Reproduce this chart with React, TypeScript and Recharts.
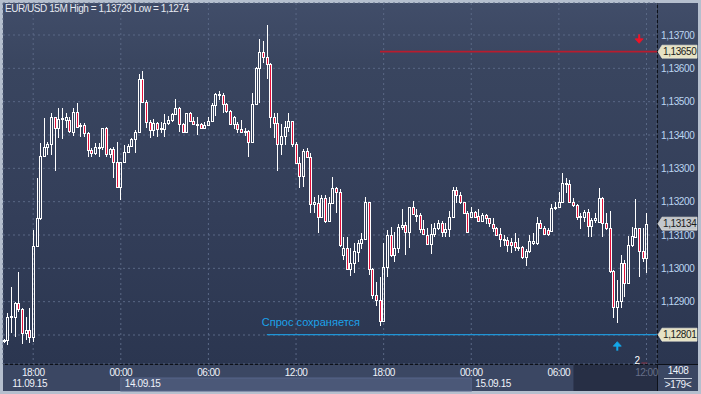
import React from 'react'
import {
  ComposedChart, Bar, XAxis, YAxis, CartesianGrid, ReferenceLine, ReferenceDot,
} from 'recharts'

// EUR/USD 15M candles, 11.09.15 16:00 -> 15.09.15 12:00
const OPEN = [
  1.12784, 1.12785, 1.12855, 1.12855, 1.12897, 1.12877, 1.12805, 1.12815, 1.12793, 1.13068,
  1.13150, 1.13337, 1.13363, 1.13373, 1.13453, 1.13420, 1.13448, 1.13445, 1.13445, 1.13410,
  1.13468, 1.13427, 1.13429, 1.13405, 1.13355, 1.13345, 1.13364, 1.13365, 1.13420, 1.13342,
  1.13357, 1.13320, 1.13243, 1.13318, 1.13348, 1.13368, 1.13387, 1.13410, 1.13568, 1.13498,
  1.13438, 1.13415, 1.13435, 1.13419, 1.13418, 1.13435, 1.13445, 1.13463, 1.13480, 1.13432,
  1.13410, 1.13465, 1.13443, 1.13433, 1.13432, 1.13420, 1.13430, 1.13443, 1.13490, 1.13522,
  1.13520, 1.13492, 1.13472, 1.13433, 1.13432, 1.13418, 1.13410, 1.13412, 1.13380, 1.13492,
  1.13600, 1.13650, 1.13633, 1.13613, 1.13453, 1.13435, 1.13372, 1.13397, 1.13423, 1.13442,
  1.13372, 1.13315, 1.13277, 1.13352, 1.13335, 1.13193, 1.13197, 1.13153, 1.13212, 1.13142,
  1.13197, 1.13240, 1.13230, 1.13040, 1.13060, 1.12997, 1.13015, 1.13050, 1.13075, 1.13087,
  1.13198, 1.12997, 1.12920, 1.12905, 1.12843, 1.13005, 1.13100, 1.13040, 1.13060, 1.13123,
  1.13130, 1.13108, 1.13183, 1.13161, 1.13160, 1.13117, 1.13100, 1.13072, 1.13102, 1.13120,
  1.13137, 1.13110, 1.13117, 1.13155, 1.13235, 1.13220, 1.13198, 1.13165, 1.13155, 1.13168,
  1.13157, 1.13143, 1.13160, 1.13150, 1.13133, 1.13122, 1.13102, 1.13088, 1.13085, 1.13078,
  1.13078, 1.13065, 1.13065, 1.13035, 1.13053, 1.13077, 1.13077, 1.13135, 1.13120, 1.13115,
  1.13113, 1.13180, 1.13185, 1.13200, 1.13257, 1.13252, 1.13200, 1.13190, 1.13156, 1.13155,
  1.13170, 1.13127, 1.13145, 1.13140, 1.13210, 1.13137, 1.13120, 1.12993, 1.12883, 1.12903,
  1.13017, 1.12957, 1.13070, 1.13095, 1.13120, 1.13053, 1.13030,
]
const HIGH = [
  1.12787, 1.12865, 1.12945, 1.12900, 1.12990, 1.12880, 1.12855, 1.12880, 1.13115, 1.13270,
  1.13375, 1.13450, 1.13380, 1.13465, 1.13455, 1.13480, 1.13480, 1.13465, 1.13455, 1.13480,
  1.13495, 1.13435, 1.13435, 1.13410, 1.13360, 1.13375, 1.13375, 1.13422, 1.13425, 1.13360,
  1.13365, 1.13380, 1.13318, 1.13370, 1.13372, 1.13390, 1.13415, 1.13583, 1.13593, 1.13505,
  1.13445, 1.13448, 1.13440, 1.13440, 1.13462, 1.13457, 1.13467, 1.13507, 1.13485, 1.13435,
  1.13465, 1.13470, 1.13453, 1.13453, 1.13437, 1.13440, 1.13453, 1.13495, 1.13527, 1.13533,
  1.13525, 1.13495, 1.13475, 1.13457, 1.13440, 1.13445, 1.13420, 1.13415, 1.13525, 1.13605,
  1.13687, 1.13683, 1.13730, 1.13615, 1.13465, 1.13465, 1.13433, 1.13443, 1.13465, 1.13443,
  1.13380, 1.13335, 1.13357, 1.13360, 1.13347, 1.13215, 1.13220, 1.13220, 1.13220, 1.13213,
  1.13275, 1.13245, 1.13237, 1.13093, 1.13093, 1.13060, 1.13077, 1.13085, 1.13105, 1.13213,
  1.13200, 1.13000, 1.12960, 1.12975, 1.13075, 1.13115, 1.13125, 1.13110, 1.13133, 1.13177,
  1.13140, 1.13185, 1.13203, 1.13177, 1.13165, 1.13145, 1.13120, 1.13133, 1.13137, 1.13145,
  1.13143, 1.13137, 1.13172, 1.13245, 1.13243, 1.13230, 1.13200, 1.13172, 1.13185, 1.13172,
  1.13177, 1.13165, 1.13163, 1.13152, 1.13150, 1.13125, 1.13122, 1.13100, 1.13093, 1.13092,
  1.13105, 1.13090, 1.13067, 1.13057, 1.13100, 1.13105, 1.13153, 1.13145, 1.13127, 1.13122,
  1.13193, 1.13200, 1.13230, 1.13287, 1.13270, 1.13265, 1.13210, 1.13193, 1.13167, 1.13175,
  1.13177, 1.13150, 1.13167, 1.13240, 1.13215, 1.13167, 1.13173, 1.12995, 1.12965, 1.13040,
  1.13025, 1.13097, 1.13125, 1.13207, 1.13120, 1.13120, 1.13165,
]
const LOW = [
  1.12777, 1.12770, 1.12805, 1.12795, 1.12870, 1.12773, 1.12785, 1.12775, 1.12780, 1.13065,
  1.13145, 1.13335, 1.13340, 1.13340, 1.13293, 1.13390, 1.13387, 1.13420, 1.13405, 1.13397,
  1.13420, 1.13395, 1.13393, 1.13335, 1.13335, 1.13340, 1.13335, 1.13355, 1.13335, 1.13330,
  1.13270, 1.13240, 1.13205, 1.13315, 1.13345, 1.13365, 1.13347, 1.13408, 1.13495, 1.13420,
  1.13390, 1.13398, 1.13393, 1.13405, 1.13395, 1.13430, 1.13440, 1.13460, 1.13409, 1.13407,
  1.13405, 1.13440, 1.13430, 1.13400, 1.13417, 1.13417, 1.13427, 1.13440, 1.13457, 1.13505,
  1.13467, 1.13467, 1.13430, 1.13417, 1.13405, 1.13405, 1.13397, 1.13335, 1.13380, 1.13490,
  1.13497, 1.13615, 1.13568, 1.13420, 1.13390, 1.13293, 1.13340, 1.13370, 1.13410, 1.13365,
  1.13313, 1.13240, 1.13245, 1.13333, 1.13165, 1.13165, 1.13107, 1.13150, 1.13135, 1.13140,
  1.13193, 1.13165, 1.13065, 1.13025, 1.12995, 1.12977, 1.12985, 1.13020, 1.13057, 1.13085,
  1.12980, 1.12907, 1.12887, 1.12827, 1.12840, 1.12973, 1.13035, 1.13020, 1.13045, 1.13115,
  1.13040, 1.13060, 1.13160, 1.13140, 1.13105, 1.13100, 1.13070, 1.13043, 1.13093, 1.13115,
  1.13093, 1.13095, 1.13093, 1.13150, 1.13197, 1.13193, 1.13163, 1.13110, 1.13153, 1.13150,
  1.13140, 1.13140, 1.13133, 1.13125, 1.13110, 1.13097, 1.13065, 1.13068, 1.13050, 1.13047,
  1.13053, 1.13053, 1.13027, 1.13008, 1.13047, 1.13070, 1.13070, 1.13117, 1.13100, 1.13097,
  1.13110, 1.13175, 1.13180, 1.13197, 1.13225, 1.13195, 1.13185, 1.13145, 1.13117, 1.13140,
  1.13095, 1.13093, 1.13135, 1.13137, 1.13093, 1.13115, 1.12985, 1.12850, 1.12837, 1.12880,
  1.12915, 1.12955, 1.13063, 1.13090, 1.12975, 1.13020, 1.12987,
]
const CLOSE = [
  1.12782, 1.12855, 1.12857, 1.12897, 1.12877, 1.12805, 1.12815, 1.12795, 1.13068, 1.13150,
  1.13337, 1.13365, 1.13373, 1.13453, 1.13420, 1.13447, 1.13450, 1.13453, 1.13412, 1.13468,
  1.13425, 1.13429, 1.13405, 1.13355, 1.13345, 1.13365, 1.13365, 1.13420, 1.13342, 1.13357,
  1.13320, 1.13243, 1.13318, 1.13348, 1.13368, 1.13387, 1.13410, 1.13568, 1.13498, 1.13438,
  1.13415, 1.13435, 1.13418, 1.13420, 1.13435, 1.13445, 1.13463, 1.13480, 1.13432, 1.13410,
  1.13465, 1.13443, 1.13432, 1.13432, 1.13420, 1.13430, 1.13443, 1.13490, 1.13522, 1.13520,
  1.13493, 1.13472, 1.13433, 1.13453, 1.13418, 1.13408, 1.13411, 1.13380, 1.13492, 1.13600,
  1.13650, 1.13633, 1.13613, 1.13453, 1.13435, 1.13372, 1.13397, 1.13423, 1.13442, 1.13372,
  1.13315, 1.13277, 1.13352, 1.13335, 1.13193, 1.13200, 1.13153, 1.13210, 1.13143, 1.13197,
  1.13240, 1.13230, 1.13070, 1.13060, 1.12997, 1.13015, 1.13052, 1.13075, 1.13087, 1.13198,
  1.12997, 1.12920, 1.12905, 1.12843, 1.13005, 1.13100, 1.13040, 1.13060, 1.13123, 1.13130,
  1.13108, 1.13183, 1.13163, 1.13160, 1.13117, 1.13102, 1.13072, 1.13102, 1.13120, 1.13137,
  1.13110, 1.13117, 1.13155, 1.13235, 1.13220, 1.13198, 1.13165, 1.13110, 1.13168, 1.13155,
  1.13143, 1.13160, 1.13150, 1.13135, 1.13122, 1.13100, 1.13088, 1.13087, 1.13070, 1.13070,
  1.13063, 1.13064, 1.13035, 1.13053, 1.13083, 1.13083, 1.13135, 1.13122, 1.13102, 1.13102,
  1.13180, 1.13185, 1.13200, 1.13255, 1.13253, 1.13200, 1.13190, 1.13155, 1.13155, 1.13170,
  1.13127, 1.13145, 1.13150, 1.13210, 1.13137, 1.13120, 1.12993, 1.12883, 1.12903, 1.13017,
  1.12957, 1.13070, 1.13097, 1.13120, 1.13053, 1.13030, 1.13134,
]

const TICK_IDX = [8, 32, 56, 80, 104, 128, 152, 176]
const TICK_TIMES = ['18:00', '00:00', '06:00', '12:00', '18:00', '00:00', '06:00', '12:00']
const DATE_IDX = [8, 32, 128]
const DATE_LABELS = ['11.09.15', '14.09.15', '15.09.15']
const PRICE_TICKS = [1.128, 1.129, 1.13, 1.131, 1.132, 1.133, 1.134, 1.135, 1.136, 1.137]

const RESIST = 1.1365
const SUPPORT = 1.12801
const LAST = 1.13134

const X_MIN = -0.27
const X_MAX = 178.88
const PLOT_W = 654
const PX = PLOT_W / (X_MAX - X_MIN)
const FONT = '"Liberation Sans", Arial, sans-serif'

const data = OPEN.map((o, i) => ({
  i, o, h: HIGH[i], l: LOW[i], c: CLOSE[i], range: [LOW[i], HIGH[i]],
}))

const fmt = (v: number) => v.toFixed(5).replace('.', ',')

function Candle(props: any) {
  const { x, y, width, height, payload } = props
  if (x == null || !payload) return null
  const top = Math.min(y, y + height)
  const h = Math.abs(height)
  const k = h / (payload.h - payload.l || 1)
  const py = (v: number) => top + (payload.h - v) * k
  const cx = Math.round(x + width / 2) + 0.5
  const bull = payload.c >= payload.o
  const bTop = Math.round(py(Math.max(payload.o, payload.c))) + 0.5
  let bBot = Math.round(py(Math.min(payload.o, payload.c))) + 0.5
  if (bBot - bTop < 1) bBot = bTop + 1
  const yH = py(payload.h)
  const yL = py(payload.l)
  return (
    <g shapeRendering="crispEdges">
      <line x1={cx} x2={cx} y1={yH} y2={bTop} stroke="#fff" />
      <line x1={cx} x2={cx} y1={bBot} y2={yL} stroke="#fff" />
      <rect x={cx - 1} y={bTop} width={2} height={bBot - bTop}
        fill={bull ? 'none' : '#e3103a'} stroke="#fff" />
    </g>
  )
}

function XTick(props: any) {
  const { x, y, payload } = props
  const idx = payload.value
  const n = TICK_IDX.indexOf(idx)
  const d = DATE_IDX.indexOf(idx)
  const last = n === TICK_IDX.length - 1
  return (
    <g fontFamily={FONT} fontSize={10} letterSpacing={-0.5}>
      {last && (
        <rect x={x - 20 * PX} y={y + 1} width={20 * PX + (X_MAX - idx) * PX} height={26} fill="#272f45" />
      )}
      {idx === 32 && (
        <rect x={x} y={y + 14} width={96 * PX} height={13} fill="#4b5878" stroke="#56648a" />
      )}
      <text x={x} y={y + 12} textAnchor="middle" fill={last ? '#667089' : '#eef2fa'}>
        {TICK_TIMES[n]}
      </text>
      {d >= 0 && (
        <text x={d === 0 ? x - 21 : x + 4} y={y + 23} fill="#eef2fa" letterSpacing={-0.4}>
          {DATE_LABELS[d]}
        </text>
      )}
    </g>
  )
}

function YTick(props: any) {
  const { x, y, payload } = props
  if (payload.value === 1.128) return null
  return (
    <text x={x} y={y + 3.6} fill="#bcd6f2" fontFamily={FONT} fontSize={10} letterSpacing={-0.4}>
      {fmt(payload.value)}
    </text>
  )
}

function Tag({ viewBox, value, fill }: any) {
  if (!viewBox) return null
  const xr = viewBox.x + viewBox.width
  const yc = viewBox.y
  const pts = `${xr + 1},${yc} ${xr + 5},${yc - 6.5} ${xr + 40},${yc - 6.5} ${xr + 40},${yc + 6.5} ${xr + 5},${yc + 6.5}`
  return (
    <g>
      <polygon points={pts} fill={fill} stroke="#f2f0e4" strokeWidth={0.6} />
      <text x={xr + 6} y={yc + 3.6} fill="#1b1b1b" fontFamily={FONT} fontSize={10} letterSpacing={-0.4}>
        {fmt(value)}
      </text>
    </g>
  )
}

function SupportLabel({ viewBox }: any) {
  if (!viewBox) return null
  return (
    <g>
      <text x={viewBox.x - 5} y={viewBox.y - 9} fill="#1ca2ea" fontFamily={FONT} fontSize={11}>
        Спрос сохраняется
      </text>
      <Tag viewBox={viewBox} value={SUPPORT} fill="#e6e2c4" />
    </g>
  )
}

function Arrow({ cx, cy, color, up }: any) {
  const s = up ? -1 : 1
  return (
    <g fill={color} stroke={color}>
      <line x1={cx} x2={cx} y1={cy - 5 * s} y2={cy + 1 * s} strokeWidth={2} />
      <polygon points={`${cx - 4},${cy - 0.5 * s} ${cx + 4},${cy - 0.5 * s} ${cx},${cy + 4 * s}`} strokeWidth={0.8} strokeLinejoin="round" />
    </g>
  )
}

export default function App() {
  return (
    <div style={{ position: 'absolute', left: 0, top: 0, width: 701, height: 394, background: '#b5bfce' }}>
      <div style={{
        position: 'absolute', left: 3, top: 3, width: 695, height: 361,
        background: 'linear-gradient(to bottom, #414d69 0%, #39455f 18%, #343f5a 55%, #2b3650 100%)',
      }} />
      <div style={{ position: 'absolute', left: 3, top: 364, width: 695, height: 27, background: '#3b4763' }} />
      <div style={{ position: 'absolute', left: 3, top: 364, width: 695, height: 1, background: '#0d1119' }} />
      <div style={{ position: 'absolute', left: 657, top: 3, width: 1, height: 388, background: '#0d1119' }} />
      <div style={{ position: 'absolute', left: 0, top: 0 }}>
        <ComposedChart width={701} height={394} data={data} margin={{ top: 3, right: 3, bottom: 3, left: 3 }}>
          <CartesianGrid stroke="#5a6885" strokeDasharray="2 3" />
          <XAxis dataKey="i" type="number" domain={[X_MIN, X_MAX]} allowDataOverflow
            ticks={TICK_IDX} interval={0} height={27} tickSize={0} tickMargin={0}
            axisLine={false} tickLine={false} tick={<XTick />} />
          <YAxis orientation="right" domain={[1.12713, 1.13796]} allowDataOverflow
            ticks={PRICE_TICKS} interval={0} width={41} tickSize={0} tickMargin={4}
            axisLine={false} tickLine={false} tick={<YTick />} />
          <Bar dataKey="range" barSize={3} isAnimationActive={false} shape={(p: any) => <Candle {...p} />} />
          <ReferenceLine segment={[{ x: 103, y: RESIST }, { x: X_MAX, y: RESIST }]}
            stroke="#b81c2e" strokeWidth={1.6}
            label={<Tag value={RESIST} fill="#e6e2c4" />} />
          <ReferenceLine segment={[{ x: 72, y: SUPPORT }, { x: X_MAX, y: SUPPORT }]}
            stroke="#1f95d6" strokeWidth={1.2}
            label={<SupportLabel />} />
          <ReferenceLine y={LAST} stroke="none" label={<Tag value={LAST} fill="#c3c7cc" />} />
          <ReferenceDot x={174} y={1.13687} r={0}
            shape={(p: any) => <Arrow cx={p.cx} cy={p.cy} color="#ee1428" />} />
          <ReferenceDot x={168} y={1.12768} r={0}
            shape={(p: any) => <Arrow cx={p.cx} cy={p.cy} color="#14a8ea" up />} />
          <ReferenceDot x={173.5} y={1.12725} r={0}
            shape={(p: any) => (
              <g>
                <text x={p.cx} y={p.cy + 3.5} textAnchor="middle" fill="#ffffff" fontFamily={FONT} fontSize={10}>2</text>
                <line x1={p.cx + 4} x2={p.cx + 10} y1={p.cy + 3} y2={p.cy + 3} stroke="#8a3040" />
              </g>
            )} />
        </ComposedChart>
      </div>
      <div style={{
        position: 'absolute', left: 5, top: 2, color: '#e6eaf2', fontFamily: FONT,
        fontSize: 10, letterSpacing: -0.45, lineHeight: '13px', whiteSpace: 'nowrap',
      }}>
        EUR/USD 15M High = 1,13729 Low = 1,1274
      </div>
      <div style={{
        position: 'absolute', left: 658, top: 365, width: 40, height: 26, color: '#eef2fa',
        fontFamily: FONT, fontSize: 10, letterSpacing: -0.4, textAlign: 'center', lineHeight: '12px',
      }}>
        <div>1408</div>
        <div style={{ margin: '1px 6px 0', borderTop: '1px solid #c6cedb' }}>&gt;179&lt;</div>
      </div>
    </div>
  )
}
